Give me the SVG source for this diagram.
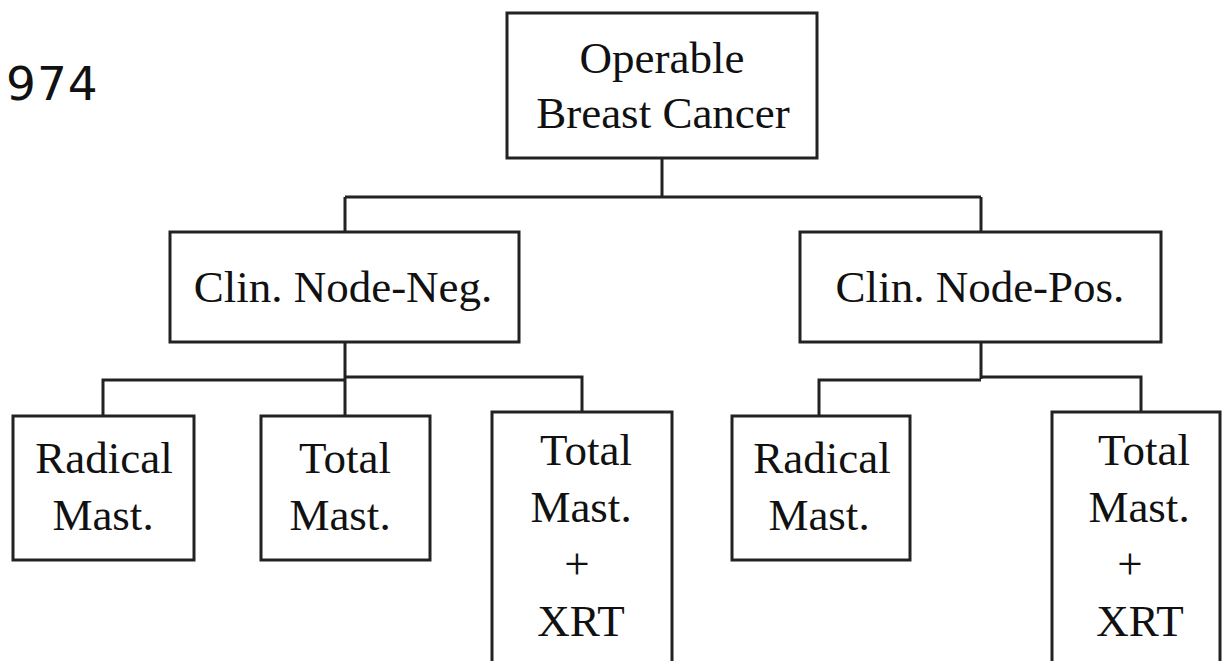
<svg xmlns="http://www.w3.org/2000/svg" width="1222" height="661" viewBox="0 0 1222 661">
<style>
.box{fill:#fff;stroke:#222;stroke-width:3}
.ln{fill:none;stroke:#222;stroke-width:3}
.t{font-family:"Liberation Serif","Times New Roman",serif;font-size:45px;fill:#111;text-anchor:middle}
.n{font-family:"DejaVu Sans",sans-serif;font-size:47px;fill:#111;letter-spacing:1px}
</style>
<rect width="1222" height="661" fill="#fff"/>
<text class="n" x="6" y="100">974</text>
<g id="connectors">
<path class="ln" d="M662,158 V197 M345,197 H981 M345,197 V232 M981,197 V232"/>
<path class="ln" d="M345,342 V379 M103,416 V380 H345 M345,379 V416 M345,377 H582 V412"/>
<path class="ln" d="M981,342 V379 M819,416 V380 H981 M981,377 H1141 V412"/>
</g>
<g id="root">
<rect class="box" x="507" y="13" width="310" height="145"/>
<text class="t" x="662" y="73">Operable</text>
<text class="t" x="663" y="128">Breast Cancer</text>
</g>
<g id="neg">
<rect class="box" x="170" y="232" width="349" height="110"/>
<text class="t" x="343" y="302">Clin. Node-Neg.</text>
</g>
<g id="pos">
<rect class="box" x="800" y="232" width="361" height="110"/>
<text class="t" x="980" y="302">Clin. Node-Pos.</text>
</g>
<g id="neg-radical">
<rect class="box" x="13" y="416" width="181" height="144"/>
<text class="t" x="104" y="473">Radical</text>
<text class="t" x="103" y="530">Mast.</text>
</g>
<g id="neg-total">
<rect class="box" x="261" y="416" width="169" height="144"/>
<text class="t" x="345" y="473">Total</text>
<text class="t" x="340" y="530">Mast.</text>
</g>
<g id="neg-total-xrt">
<rect class="box" x="492" y="412" width="180" height="260"/>
<text class="t" x="586" y="465">Total</text>
<text class="t" x="581" y="522">Mast.</text>
<text class="t" x="577" y="579">+</text>
<text class="t" x="581" y="636">XRT</text>
</g>
<g id="pos-radical">
<rect class="box" x="732" y="416" width="178" height="144"/>
<text class="t" x="822" y="473">Radical</text>
<text class="t" x="819" y="530">Mast.</text>
</g>
<g id="pos-total-xrt">
<rect class="box" x="1052" y="412" width="168" height="260"/>
<text class="t" x="1144" y="465">Total</text>
<text class="t" x="1139" y="522">Mast.</text>
<text class="t" x="1130" y="579">+</text>
<text class="t" x="1140" y="636">XRT</text>
</g>
</svg>
